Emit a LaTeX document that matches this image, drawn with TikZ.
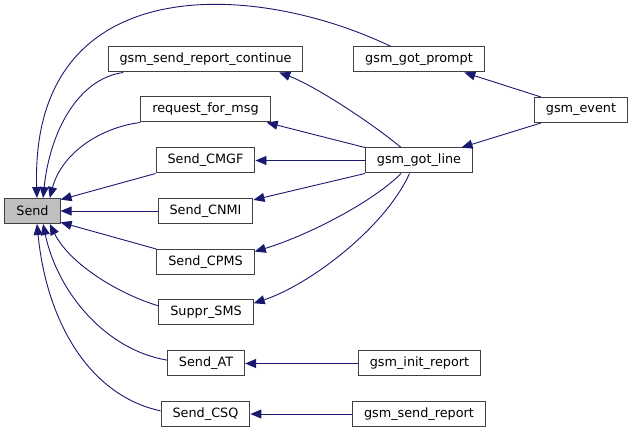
\documentclass[tikz,border=0pt]{standalone}
\usepackage{fontspec}
\setmainfont{DejaVu Sans}
\usetikzlibrary{arrows.meta, positioning}
\definecolor{edgeblue}{RGB}{25, 25, 112}
\definecolor{boxline}{RGB}{64, 64, 64}
\definecolor{rootgray}{RGB}{191, 191, 191}

\begin{document}
\begin{tikzpicture}[x=1pt, y=1pt,
    fn/.style={draw=boxline, line width=1pt, fill=white, minimum height=25pt, inner xsep=11.5pt, font=\fontsize{12.8}{15}\selectfont},
    calls/.style={draw=edgeblue, line width=0.9pt, -{Triangle[length=11pt, width=9pt]}}]
    \useasboundingbox (0, 0) rectangle (633, -433);

    % Root function
    \node[fn, fill=rootgray] (send) at (32.5, -211) {Send};

    % Direct callers
    \node[fn] (gsrc) at (205.5, -59.5) {gsm\_send\_report\_continue};
    \node[fn] (rfm) at (205.5, -109.5) {request\_for\_msg};
    \node[fn] (cmgf) at (205.5, -160.5) {Send\_CMGF};
    \node[fn] (cnmi) at (205.5, -211) {Send\_CNMI};
    \node[fn] (cpms) at (205.5, -262) {Send\_CPMS};
    \node[fn] (suppr) at (206, -312.5) {Suppr\_SMS};
    \node[fn] (sat) at (206, -363.5) {Send\_AT};
    \node[fn] (csq) at (205.5, -414) {Send\_CSQ};

    % Second level callers
    \node[fn] (gp) at (419, -59.5) {gsm\_got\_prompt};
    \node[fn] (gl) at (419, -160.5) {gsm\_got\_line};
    \node[fn] (ir) at (419.5, -363.5) {gsm\_init\_report};
    \node[fn] (sr) at (419, -414) {gsm\_send\_report};
    \node[fn] (ev) at (581, -110) {gsm\_event};

    % Edges into Send
    \draw[calls] (gp.155) .. controls +(-140, 67) and +(-7, 228) .. (send.71);
    \draw[calls] (gsrc.189) .. controls +(-45, -6) and +(7, 67) .. (send.51);
    \draw[calls] (rfm.south west) .. controls +(-40, -5) and +(12, 45) .. (send.37);
    \draw[calls] (cmgf.south west) -- (send.22);
    \draw[calls] (cnmi.west) -- (send.east);
    \draw[calls] (cpms.north west) -- (send.-22);
    \draw[calls] (suppr.172) .. controls +(-40, 12) and +(20, -40) .. (send.-37);
    \draw[calls] (sat.175) .. controls +(-60, 10) and +(15, -70) .. (send.-51);
    \draw[calls] (csq.176) .. controls +(-70, 15) and +(10, -100) .. (send.-71);

    % Edges from gsm_got_line
    \draw[calls] (gl.144) .. controls +(-30, 25) and +(35, -13) .. (gsrc.-10);
    \draw[calls] (gl.north west) -- (rfm.-12);
    \draw[calls] (gl.west) -- (cmgf.east);
    \draw[calls] (gl.south west) -- (cnmi.13);
    \draw[calls] (gl.-144) .. controls +(-30, -30) and +(50, 15) .. (cpms.12);
    \draw[calls] (gl.-126) .. controls +(-25, -55) and +(55, 18) .. (suppr.11);

    % Edges from gsm_event and report functions
    \draw[calls] (ev.162) -- (gp.-16);
    \draw[calls] (ev.-162) -- (gl.17);
    \draw[calls] (ir.west) -- (sat.east);
    \draw[calls] (sr.west) -- (csq.east);
\end{tikzpicture}
\end{document}
